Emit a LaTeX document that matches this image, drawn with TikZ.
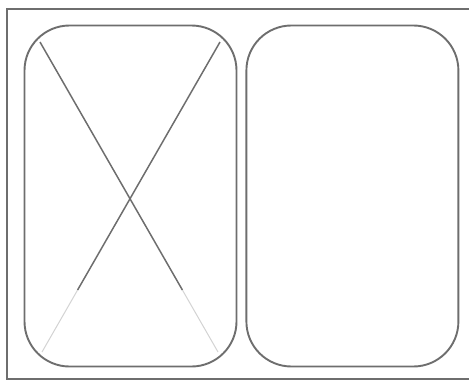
\documentclass[tikz,border=0pt]{standalone}
\usepackage{xcolor}
\usetikzlibrary{positioning,calc}
\definecolor{sketch}{HTML}{6E6E6E}
\tikzset{
  frame/.style = {draw=sketch, line width=1.6pt},
  card/.style  = {rectangle, draw=sketch, line width=1.9pt, rounded corners=45pt,
                  minimum width=212pt, minimum height=341pt, inner sep=0pt},
  cross/.style = {draw=sketch, line width=1.5pt},
  faint/.style = {draw=sketch!30, line width=1pt},
}
\begin{document}
\begin{tikzpicture}[x=1pt,y=-1pt]
  \useasboundingbox (0,0) rectangle (469,381);
  \clip (0,0) rectangle (469,381);
  % outer frame, right side runs off the page
  \draw[frame] (7,9) rectangle (478,379);
  % two cards side by side
  \node[card] (img) at (130.5,196) {};
  \node[card, right=8pt of img] (txt) {};
  % placeholder cross in the left card
  \coordinate (tl) at (40,42);
  \coordinate (tr) at (220,42);
  \coordinate (bl) at (42,352);
  \coordinate (br) at (218,352);
  \coordinate (ml) at ($(tr)!0.8!(bl)$);
  \coordinate (mr) at ($(tl)!0.8!(br)$);
  \draw[cross] (tl) -- (mr);
  \draw[cross] (tr) -- (ml);
  \draw[faint] (mr) -- (br);
  \draw[faint] (ml) -- (bl);
\end{tikzpicture}
\end{document}
